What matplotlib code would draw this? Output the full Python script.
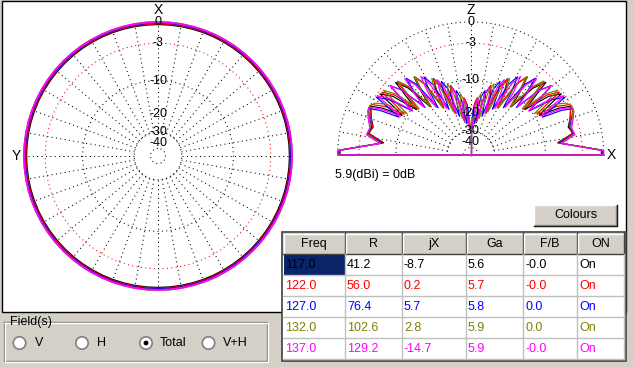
import numpy as np
import matplotlib
matplotlib.use("Agg")
import matplotlib.pyplot as plt
from matplotlib.patches import Rectangle, Circle

plt.rcParams['font.family'] = ['Liberation Sans', 'DejaVu Sans']

# ---------------- data ----------------
freq = [117.0, 122.0, 127.0, 132.0, 137.0]
res_r = [41.2, 56.0, 76.4, 102.6, 129.2]
res_jx = [-8.7, 0.2, 5.7, 2.8, -14.7]
gain_ga = [5.6, 5.7, 5.8, 5.9, 5.9]
front_back = [-0.0, -0.0, 0.0, 0.0, -0.0]
on_state = ['On', 'On', 'On', 'On', 'On']
series_colors = ['#000000', '#FF0000', '#0000FF', '#808000', '#FF00FF']
columns = ['Freq', 'R', 'jX', 'Ga', 'F/B', 'ON']
fields = ['V', 'H', 'Total', 'V+H']
selected_field = 'Total'

grid_db = [0, -3, -10, -30, -50]
label_db = [0, -3, -10, -20, -30, -40]
label_txt = ['0', '-3', '-10', '-20', '-30', '-40']

# elevation pattern (one half, mirrored): elevation angle in deg, level in dB rel. 5.9 dBi
el_e_117 = [0, 2.2, 8, 12, 16, 20, 24, 26, 28, 30, 32, 34, 37, 40, 42, 44, 47, 50,
            52, 54, 57, 60, 62, 64, 67, 70, 72, 74, 77, 80, 82, 84, 86, 88, 90]
el_d_117 = [-0.3, -0.3, -7.2, -4.2, -4.7, -4.0, -3.4, -3.1, -5.0, -9, -6.8, -3.4, -5.4, -11, -7.8, -4.2, -6.5, -13,
            -8.8, -5.6, -7.8, -15.5, -10.3, -7.8, -10, -19, -12.5, -10.7, -13, -23.5, -17, -15, -17, -28, -30]

el_e_122 = [0, 2.1, 7.8, 12, 16.5, 21, 25, 27, 29.5, 31.5, 33.4, 35.3, 38.2, 41.1, 43, 44.9, 47.8, 50.7,
            52.6, 54.5, 57.4, 60.3, 62.2, 64.1, 67, 69.9, 71.8, 73.7, 76.6, 79.5, 81.4, 83.3, 85.5, 87.5, 90]
el_d_122 = [-0.2, -0.2, -7.0, -4.3, -4.5, -3.8, -3.3, -3.1, -5.2, -9.3, -6.9, -3.5, -5.5, -11.2, -7.9, -4.3, -6.6, -13.2,
            -9.0, -5.7, -7.9, -15.6, -10.4, -7.9, -10.1, -19, -12.6, -10.6, -12.9, -23.3, -16.5, -14.5, -16.5, -27.5, -30]

el_e_127 = [0, 2.0, 7.6, 11.5, 16, 20, 23, 24.5, 26.2, 27.8, 29.6, 31.5, 34.2, 37, 38.8, 40.7, 43.4, 46.2,
            48, 49.9, 52.6, 55.4, 57.2, 59.1, 61.8, 64.6, 66.4, 68.3, 71, 73.8, 75.6, 77.5, 80.2, 83,
            85, 86.5, 88.5, 90]
el_d_127 = [-0.1, -0.1, -6.8, -4.1, -4.4, -3.7, -3.2, -3.0, -4.8, -8.6, -6.3, -3.2, -5.2, -10.4, -7.2, -3.9, -6.0, -12.2,
            -8.3, -4.9, -7.0, -14.6, -9.6, -6.6, -8.8, -16.8, -11.5, -9.0, -11.2, -20.8, -14, -12.2, -14.4, -25,
            -19, -18, -28.5, -30]

el_e_132 = [0, 1.9, 7.4, 11.5, 15.5, 20, 23.5, 26, 28.5, 31, 33, 34.8, 36.6, 39.2, 41.8, 43.6, 45.4, 48, 50.6,
            52.4, 54.2, 56.8, 59.4, 61.2, 63, 65.6, 68.2, 70, 71.8, 74.4, 77, 78.8, 80.6, 83.2, 85.8, 88, 90]
el_d_132 = [0, 0, -6.6, -4.0, -4.3, -3.6, -3.1, -2.9, -3.5, -5.2, -9.8, -6.9, -3.5, -5.6, -11.4, -7.9, -4.3, -6.5, -13.1,
            -8.9, -5.6, -7.8, -15.4, -10.1, -7.6, -9.8, -18.3, -12.2, -10, -12.3, -22, -15.3, -13.3, -15.5, -26.5, -22, -30]

el_e_137 = [0, 1.8, 7.2, 11, 15, 19.5, 23, 25, 27, 29, 30.7, 32.4, 34.9, 37.4, 39.1, 40.8, 43.3, 45.8,
            47.5, 49.2, 51.7, 54.2, 55.9, 57.6, 60.1, 62.6, 64.3, 66, 68.5, 71, 72.7, 74.4, 76.9, 79.4,
            81.1, 82.8, 85, 87, 90]
el_d_137 = [0, 0, -6.5, -3.9, -4.2, -3.5, -3.0, -2.9, -4.6, -8.8, -6.3, -3.2, -5.2, -10.4, -7.2, -3.9, -6.0, -12.1,
            -8.2, -4.8, -6.9, -14.2, -9.3, -6.2, -8.4, -16.2, -10.8, -8.3, -10.4, -19.3, -13, -11, -13.2, -23.3,
            -16.5, -14.8, -17, -27, -30]

elev_sets = [(el_e_117, el_d_117), (el_e_122, el_d_122), (el_e_127, el_d_127),
             (el_e_132, el_d_132), (el_e_137, el_d_137)]

# ---------------- figure ----------------
W, H = 633, 367
fig = plt.figure(figsize=(W / 100, H / 100), dpi=100)
fig.patch.set_facecolor('#D4D0C8')
FS = 9


def px_axes(z):
    ax = fig.add_axes([0, 0, 1, 1], zorder=z)
    ax.set_xlim(0, W)
    ax.set_ylim(H, 0)
    ax.axis('off')
    return ax


def r_of(db):
    return 10 ** (np.asarray(db, float) / 40.0)


bg = px_axes(0)
bg.add_patch(Rectangle((2, 0.5), 624, 311, facecolor='white', edgecolor='black', lw=1))


def polar_axes(cx, cy, R, zero):
    ax = fig.add_axes([(cx - R) / W, (H - cy - R) / H, 2 * R / W, 2 * R / H],
                      projection='polar', zorder=2)
    ax.set_theta_zero_location(zero)
    ax.set_theta_direction(1)
    ax.set_ylim(0, 1)
    ax.axis('off')
    return ax


DOT = dict(ls=(0, (1, 3.2)), lw=0.75, clip_on=False)


def draw_grid(ax, t0, t1):
    th = np.linspace(np.radians(t0), np.radians(t1), 400)
    for db in grid_db:
        ax.plot(th, np.full_like(th, r_of(db)), color='red' if db == -3 else 'black', **DOT)
    for a in range(t0, t1 + 1 if t1 < 360 else t1, 10):
        ax.plot([np.radians(a)] * 2, [r_of(-30), 1.0], color='black', **DOT)


# ---- left: azimuth plot ----
axL = polar_axes(158, 156, 134, 'N')
draw_grid(axL, 0, 360)
az_t = np.radians(np.arange(0, 361, 5))
gmax = max(gain_ga)
for g, c in zip(gain_ga, series_colors):
    axL.plot(az_t, np.full_like(az_t, r_of(g - gmax)), color=c, lw=1.3, clip_on=False)
for db, s in zip(label_db, label_txt):
    axL.text(0, r_of(db), s, ha='center', va='center', fontsize=FS)
axL.text(0, 146 / 134, 'X', ha='center', va='center', fontsize=FS + 1)
axL.text(np.pi / 2, 142 / 134, 'Y', ha='center', va='center', fontsize=FS + 1)

# ---- right: elevation plot ----
axR = polar_axes(470.7, 155, 133, 'E')
draw_grid(axR, 0, 180)
for (ee, dd), c in zip(elev_sets, series_colors):
    e = np.array(ee, float)
    r = r_of(dd)
    th = np.concatenate([[0], np.radians(e), np.radians(180 - e[::-1]), [0]])
    rr = np.concatenate([[0], r, r[::-1], [0]])
    axR.plot(th, rr, color=c, lw=0.85, clip_on=False)
    axR.plot([np.pi / 2, np.pi / 2], [0, r[-1]], color=c, lw=0.85, clip_on=False)
for db, s in zip(label_db, label_txt):
    axR.text(np.pi / 2, r_of(db), s, ha='center', va='center', fontsize=FS)
axR.text(np.pi / 2, 145 / 133, 'Z', ha='center', va='center', fontsize=FS + 1)
axR.text(0, 141 / 133, 'X', ha='center', va='center', fontsize=FS + 1)

# ---------------- foreground widgets ----------------
fg = px_axes(5)
fg.text(335, 175, f'{gmax:.1f}(dBi) = 0dB', ha='left', va='center', fontsize=FS)

# Colours button
fg.add_patch(Rectangle((534, 205), 83, 21, facecolor='#D4D0C8', edgecolor='none'))
fg.plot([534, 534, 616], [226, 205, 205], color='white', lw=1)
fg.plot([534, 617, 617], [226, 226, 205], color='black', lw=1)
fg.plot([535, 616, 616], [225, 225, 206], color='#808080', lw=1)
fg.text(575.5, 215.5, 'Colours', ha='center', va='center', fontsize=FS)

# table
col_x = [283, 345, 402, 466, 523, 577, 624]
row_y = [233, 254, 275, 296, 317, 338, 359]
fg.add_patch(Rectangle((281.5, 231.5), 344, 129, facecolor='white', edgecolor='#404040', lw=1.2))
for i, name in enumerate(columns):
    x0, x1 = col_x[i], col_x[i + 1]
    fg.add_patch(Rectangle((x0, row_y[0]), x1 - x0, row_y[1] - row_y[0],
                           facecolor='#D4D0C8', edgecolor='none'))
    fg.plot([x0 + 0.5, x0 + 0.5, x1 - 1], [row_y[1] - 1, row_y[0] + 0.5, row_y[0] + 0.5], color='white', lw=1)
    fg.plot([x0, x1 - 0.5, x1 - 0.5], [row_y[1] - 0.5, row_y[1] - 0.5, row_y[0]], color='#404040', lw=1)
    fg.text((x0 + x1) / 2, (row_y[0] + row_y[1]) / 2 + 0.5, name, ha='center', va='center', fontsize=FS)
for y in row_y[2:-1]:
    fg.plot([col_x[0], col_x[-1]], [y, y], color='#C0C0C0', lw=1)
for x in col_x[1:-1]:
    fg.plot([x, x], [row_y[1], row_y[-1]], color='#C0C0C0', lw=1)
fg.plot([col_x[-1], col_x[-1]], [row_y[1], row_y[-1]], color='#C0C0C0', lw=1)
fg.plot([col_x[0], col_x[-1]], [row_y[-1], row_y[-1]], color='#C0C0C0', lw=1)
fg.add_patch(Rectangle((col_x[0] + 0.5, row_y[1] + 0.5), col_x[1] - col_x[0] - 1, row_y[2] - row_y[1] - 1,
                       facecolor='#0A246A', edgecolor='none'))
for k in range(len(freq)):
    vals = [f'{freq[k]:.1f}', f'{res_r[k]:.1f}', f'{res_jx[k]:.1f}', f'{gain_ga[k]:.1f}',
            f'{front_back[k]:.1f}', on_state[k]]
    yc = (row_y[k + 1] + row_y[k + 2]) / 2 + 0.5
    for j, v in enumerate(vals):
        fg.text(col_x[j] + 2, yc, v, ha='left', va='center', fontsize=FS, color=series_colors[k])

# Field(s) group box
fg.plot([4, 4, 267, 267, 4], [322, 361, 361, 322, 322], color='#808080', lw=1)
fg.plot([5, 5, 268, 268, 5], [323, 362, 362, 323, 323], color='white', lw=1)
fg.add_patch(Rectangle((8, 316), 48, 12, facecolor='#D4D0C8', edgecolor='none'))
fg.text(10, 322, 'Field(s)', ha='left', va='center', fontsize=FS)
rb_x = [19.5, 82, 146, 208.5]
lbl_x = [35, 97, 160, 223]
for xr, xl, name in zip(rb_x, lbl_x, fields):
    fg.add_patch(Circle((xr, 343), 6.2, facecolor='white', edgecolor='#808080', lw=1.2))
    if name == selected_field:
        fg.add_patch(Circle((xr, 343), 2.4, facecolor='black', edgecolor='none'))
    fg.text(xl, 343.5, name, ha='left', va='center', fontsize=FS)

fig.savefig('out.png', dpi=100, facecolor=fig.get_facecolor())
